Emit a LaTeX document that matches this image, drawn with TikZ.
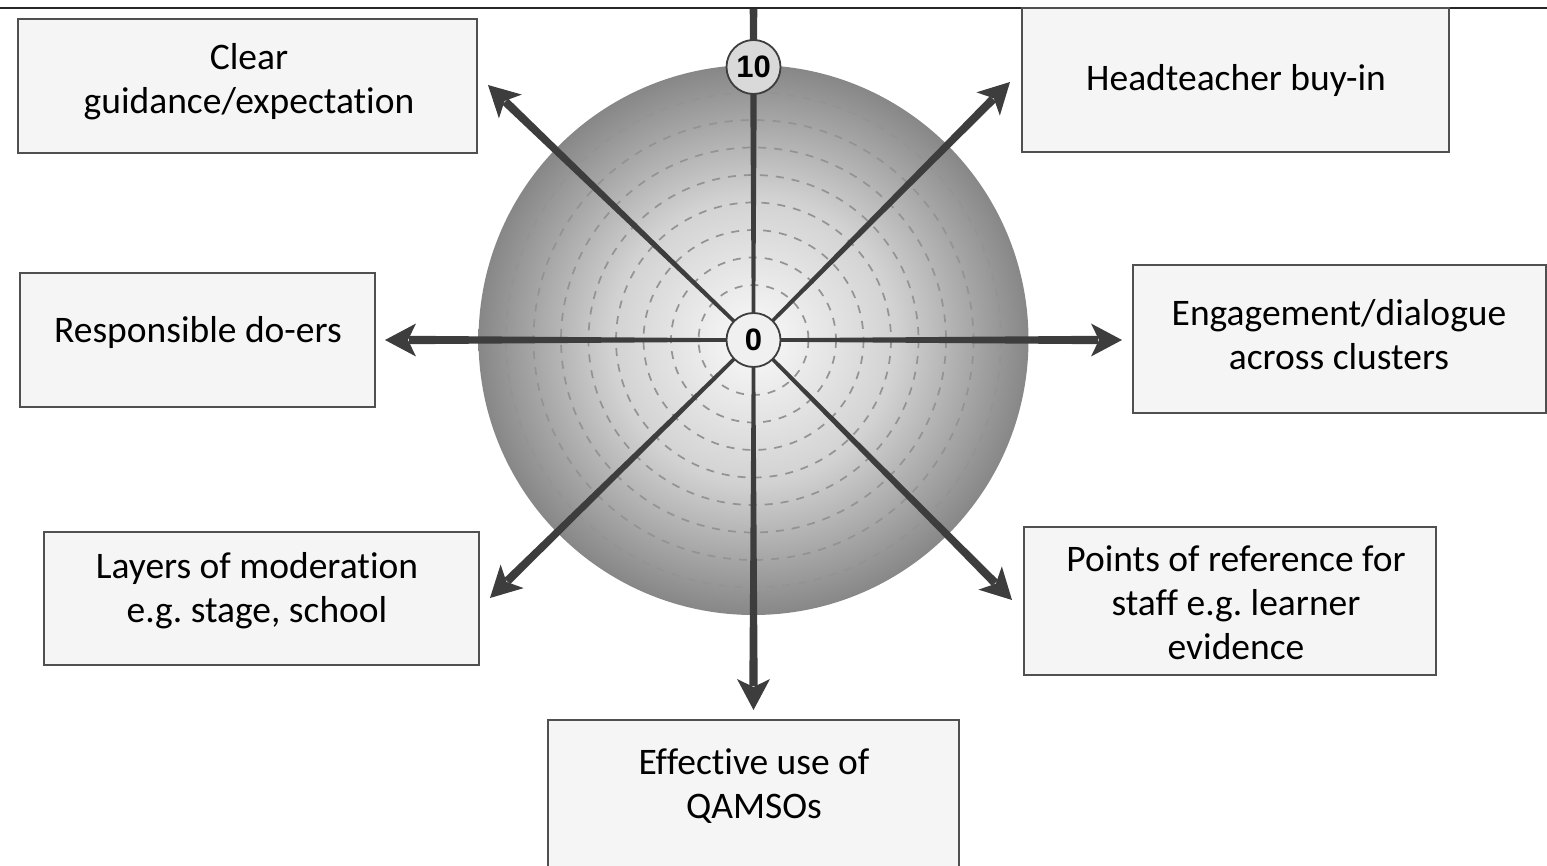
\documentclass[tikz,border=0pt]{standalone}
\usepackage{fontspec}
\setmainfont{Carlito}[Ligatures=NoCommon]
\newfontfamily\numfont{Liberation Sans}
\usetikzlibrary{calc}
\frenchspacing

\definecolor{boxfill}{HTML}{F5F5F5}
\definecolor{boxline}{HTML}{505050}
\definecolor{spokegray}{HTML}{3D3D3D}
\definecolor{ringgray}{HTML}{939393}
\definecolor{sphin}{HTML}{FAFAFA}
\definecolor{sphmid}{HTML}{D2D2D2}
\definecolor{sphout}{HTML}{878787}
\definecolor{hubfill}{HTML}{F0F0F0}
\definecolor{topfill}{HTML}{D9D9D9}

\pgfdeclareradialshading{sphereshade}{\pgfpoint{0bp}{0bp}}{%
  color(0bp)=(sphin); color(13bp)=(sphmid); color(25bp)=(sphout); color(50bp)=(sphout)}

% tapered spoke from the hub to a tip, ending in a notched arrowhead
\newcommand\spokearrow[2]{%
  \coordinate (#2-base)  at ($(#2)!24pt!(#1)$);
  \coordinate (#2-back)  at ($(#2)!31pt!(#1)$);
  \coordinate (#2-notch) at ($(#2)!23pt!(#1)$);
  \fill[spokefill] ($(#1)!1.6pt!90:(#2)$) -- ($(#2-base)!4.2pt!90:(#2)$)
     -- ($(#2-base)!4.2pt!-90:(#2)$) -- ($(#1)!1.6pt!-90:(#2)$) -- cycle;
  \fill[spokefill] (#2) -- ($(#2-back)!16.5pt!90:(#2)$) -- (#2-notch)
     -- ($(#2-back)!16.5pt!-90:(#2)$) -- cycle;
}

\begin{document}
\begin{tikzpicture}[x=1pt,y=-1pt,
  box/.style={draw=boxline, fill=boxfill, line width=1.8pt, inner sep=0pt},
  boxtext/.style={font=\fontsize{37.5}{44}\selectfont, align=center, inner sep=0pt, text=black},
  spokefill/.style={fill=spokegray},
  ring/.style={draw=ringgray, line width=1.7pt, dash pattern=on 8pt off 8pt},
  numdisc/.style={circle, draw=spokegray, line width=1.8pt, minimum size=54pt, inner sep=0pt,
                  font=\numfont\bfseries\fontsize{31}{31}\selectfont}]
\useasboundingbox (0,0) rectangle (1547,866);
\clip (0,0) rectangle (1547,866);

\coordinate (hub) at (753.5,340);
\coordinate (ntip) at (753.5,8);
\coordinate (netip) at (1010,82);
\coordinate (nwtip) at (488,85);
\coordinate (etip) at (1122,340);
\coordinate (wtip) at (385,340);
\coordinate (setip) at (1012,600);
\coordinate (swtip) at (490,598);
\coordinate (stip) at (753.5,710);

% shaded disc with dashed scale rings
\shade[shading=sphereshade] (hub) circle[radius=275];
\foreach \r in {55,82.5,...,250} \draw[ring] (hub) circle[radius=\r];

% vertical spoke up to the top rule
\fill[spokefill] ($(hub)!1.6pt!90:(ntip)$) -- ($(ntip)!3.8pt!-90:(hub)$)
   -- ($(ntip)!3.8pt!90:(hub)$) -- ($(hub)!1.6pt!-90:(ntip)$) -- cycle;

% arrowed spokes
\spokearrow{hub}{netip}
\spokearrow{hub}{nwtip}
\spokearrow{hub}{etip}
\spokearrow{hub}{wtip}
\spokearrow{hub}{setip}
\spokearrow{hub}{swtip}
\spokearrow{hub}{stip}

% top rule
\draw[line width=2pt, draw=black!85] (0,8) coordinate (ruleL) -- (1547,8) coordinate (ruleR);

% scale markers
\node[numdisc, fill=hubfill] (zero) at (hub) {0};
\node[numdisc, fill=topfill] (ten) at (753.5,67) {10};

% factor boxes
\node[box, minimum width=459pt, minimum height=134pt] (clearbox) at (247.5,86) {};
\node[boxtext] (cleartxt) at (249,82) {Clear\\guidance/expectation};

\node[box, minimum width=427pt, minimum height=144pt] (headbox) at (1235.5,80) {};
\node[boxtext] (headtxt) at (1236,81) {Headteacher buy-in};

\node[box, minimum width=355pt, minimum height=134pt] (respbox) at (197.5,340) {};
\node[boxtext] (resptxt) at (198,333) {Responsible do-ers};

\node[box, minimum width=413pt, minimum height=148pt] (engbox) at (1339.5,339) {};
\node[boxtext] (engtxt) at (1339,335) {Engagement/dialogue\\across clusters};

\node[box, minimum width=435pt, minimum height=133pt] (layerbox) at (261.5,598.5) {};
\node[boxtext] (layertxt) at (257,591) {Layers of moderation\\e.g. stage, school};

\node[box, minimum width=412pt, minimum height=148pt] (pointbox) at (1230,601) {};
\node[boxtext] (pointtxt) at (1236,603) {Points of reference for\\staff e.g. learner\\evidence};

\node[box, minimum width=411pt, minimum height=180pt] (qambox) at (753.5,810) {};
\node[boxtext] (qamtxt) at (754,786) {Effective use of\\QAMSOs};
\end{tikzpicture}
\end{document}
